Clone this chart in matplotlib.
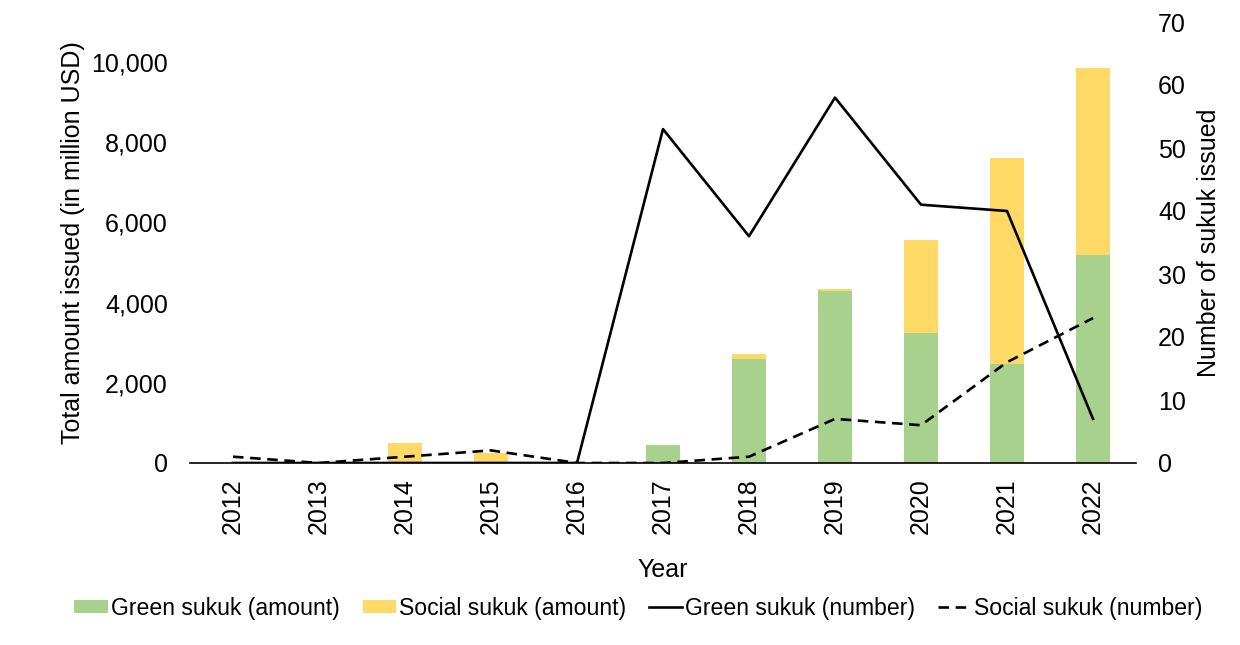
import matplotlib
matplotlib.use("Agg")
import matplotlib.pyplot as plt
import numpy as np
from matplotlib.patches import Patch
from matplotlib.lines import Line2D

years = ["2012", "2013", "2014", "2015", "2016", "2017", "2018", "2019", "2020", "2021", "2022"]
green_amount = [0, 0, 0, 0, 0, 450, 2600, 4300, 3250, 2460, 5190]
social_amount = [0, 0, 500, 240, 0, 0, 110, 50, 2320, 5160, 4660]
green_number = [0, 0, 0, 0, 0, 53, 36, 58, 41, 40, 7]
social_number = [1, 0, 1, 2, 0, 0, 1, 7, 6, 16, 23]

GREEN = "#A9D18E"
YELLOW = "#FFD966"

plt.rcParams['font.family'] = ['Liberation Sans', 'DejaVu Sans']

fig = plt.figure(figsize=(12.4, 6.45), dpi=100)
ax = fig.add_axes([190/1240, (645-463)/645, (1136-190)/1240, (463-22)/645])
x = np.arange(len(years))
ax.bar(x, green_amount, width=0.4, color=GREEN, zorder=2)
ax.bar(x, social_amount, width=0.4, bottom=green_amount, color=YELLOW, zorder=2)
ax.set_xlim(-0.5, len(years) - 0.5)
ax.set_ylim(0, 11000)
ax.set_yticks(range(0, 10001, 2000))
ax.set_yticklabels([f"{v:,}" for v in range(0, 10001, 2000)])
ax.set_xticks(x)
ax.set_xticklabels(years, rotation=90)
ax.tick_params(axis='both', length=0, labelsize=18)
ax.tick_params(axis='y', pad=16)
ax.tick_params(axis='x', pad=11)
for s in ['top', 'right', 'left']:
    ax.spines[s].set_visible(False)
ax.spines['bottom'].set_color('black')
ax.spines['bottom'].set_linewidth(1.2)
ax.set_ylabel("Total amount issued (in million USD)", fontsize=18, labelpad=4)
ax.set_xlabel("Year", fontsize=18, labelpad=17)

ax2 = ax.twinx()
ax2.plot(x, green_number, color='black', lw=1.9, zorder=3)
ax2.plot(x, social_number, color='black', lw=1.9, dashes=(4, 2.5), zorder=3)
ax2.set_ylim(0, 70)
ax2.set_yticks(range(0, 71, 10))
ax2.tick_params(axis='y', length=0, labelsize=18, pad=16)
for s in ['top', 'right', 'left', 'bottom']:
    ax2.spines[s].set_visible(False)
ax2.set_ylabel("Number of sukuk issued", fontsize=18, labelpad=8)

handles = [
    Patch(facecolor=GREEN, edgecolor='none'),
    Patch(facecolor=YELLOW, edgecolor='none'),
    Line2D([], [], color='black', lw=1.9),
    Line2D([], [], color='black', lw=1.9, dashes=(4, 2.5)),
]
labels = ["Green sukuk (amount)", "Social sukuk (amount)", "Green sukuk (number)", "Social sukuk (number)"]
fig.legend(handles, labels, loc='center', bbox_to_anchor=(0.515, 0.057), ncol=4,
           frameon=False, fontsize=16.6, handlelength=1.45, handleheight=0.5,
           handletextpad=0.12, columnspacing=1.0)

fig.savefig("out.png", dpi=100)
